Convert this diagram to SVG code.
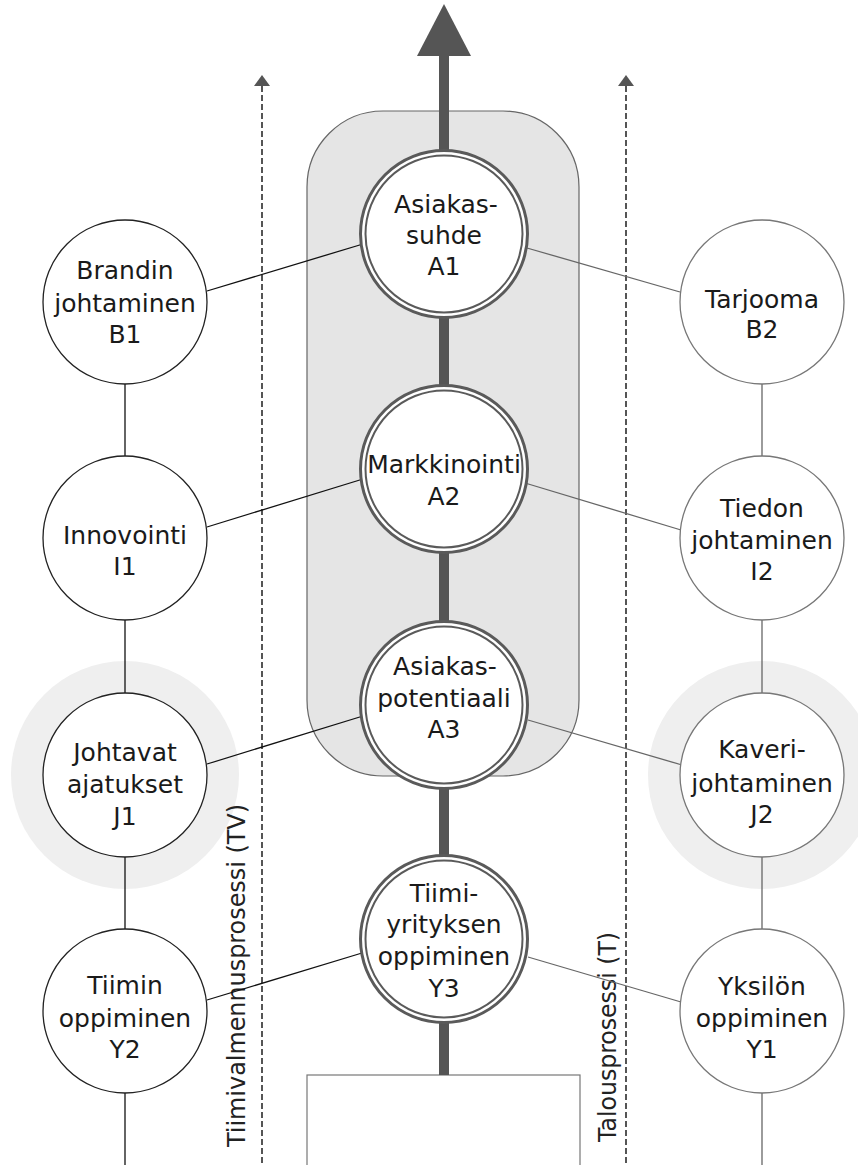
<svg xmlns="http://www.w3.org/2000/svg" width="858" height="1165" viewBox="0 0 858 1165">
<style>
  .t { font-family: "DejaVu Sans", "Liberation Sans", sans-serif; font-size: 25px; fill: #1a1a1a; text-anchor: middle; }
  .lbl { font-family: "DejaVu Sans", "Liberation Sans", sans-serif; font-size: 24px; fill: #222; }
  .nodeL { fill: #fff; stroke: #222; stroke-width: 1.3; }
  .nodeR { fill: #fff; stroke: #777; stroke-width: 1.3; }
  .ringO { fill: #fff; stroke: #5a5a5a; stroke-width: 3; }
  .ringI { fill: #fff; stroke: #5a5a5a; stroke-width: 2; }
  .cL { stroke: #111; stroke-width: 1.3; fill: none; }
  .cR { stroke: #666; stroke-width: 1.3; fill: none; }
  .dash { stroke: #555; stroke-width: 2; stroke-dasharray: 6 3; fill: none; }
  .halo { fill: #efefef; }
</style>

<g id="background">
  <rect x="307" y="111" width="272" height="665" rx="76" ry="76" fill="#e5e5e5" stroke="#666" stroke-width="1.2"/>
  <circle class="halo" cx="125" cy="775" r="114"/>
  <circle class="halo" cx="762" cy="775" r="114"/>
  <rect id="bottom-box" x="307" y="1075" width="273" height="100" fill="#fff" stroke="#777" stroke-width="1.2"/>
</g>

<g id="process-labels">
  <line class="dash" x1="262" y1="86" x2="262" y2="1165"/>
  <polygon points="262,75 254,86 270,86" fill="#555"/>
  <line class="dash" x1="626" y1="86" x2="626" y2="1165"/>
  <polygon points="626,75 618,86 634,86" fill="#555"/>
  <text class="lbl" transform="translate(245,1147) rotate(-90)" textLength="343" lengthAdjust="spacingAndGlyphs">Tiimivalmennusprosessi (TV)</text>
  <text class="lbl" transform="translate(616,1142) rotate(-90)" textLength="210" lengthAdjust="spacingAndGlyphs">Talousprosessi (T)</text>
</g>

<g id="connectors">
  <line x1="444" y1="54" x2="444" y2="1075" stroke="#555" stroke-width="10"/>
  <polygon points="444,4 417,56 471,56" fill="#555"/>
  <line class="cL" x1="125" y1="384" x2="125" y2="1165"/>
  <line class="cR" x1="762" y1="384" x2="762" y2="1165"/>
  <line class="cL" x1="207" y1="291" x2="363" y2="244"/>
  <line class="cL" x1="207" y1="527" x2="363" y2="479"/>
  <line class="cL" x1="207" y1="764" x2="363" y2="716"/>
  <line class="cL" x1="207" y1="1000" x2="362" y2="953"/>
  <line class="cR" x1="527" y1="248" x2="680" y2="292"/>
  <line class="cR" x1="525" y1="483" x2="681" y2="530"/>
  <line class="cR" x1="528" y1="720" x2="682" y2="765"/>
  <line class="cR" x1="528" y1="957" x2="681" y2="1002"/>
</g>

<g id="A1">
  <circle class="ringO" cx="444" cy="234" r="83.5"/>
  <circle class="ringI" cx="444" cy="234" r="78.5"/>
  <text class="t" x="446" y="213">Asiakas-</text>
  <text class="t" x="444" y="244">suhde</text>
  <text class="t" x="444" y="275">A1</text>
</g>
<g id="A2">
  <circle class="ringO" cx="444" cy="469" r="83.5"/>
  <circle class="ringI" cx="444" cy="469" r="78.5"/>
  <text class="t" x="444" y="473">Markkinointi</text>
  <text class="t" x="444" y="505">A2</text>
</g>
<g id="A3">
  <circle class="ringO" cx="444" cy="705" r="83.5"/>
  <circle class="ringI" cx="444" cy="705" r="78.5"/>
  <text class="t" x="445" y="675">Asiakas-</text>
  <text class="t" x="444" y="707">potentiaali</text>
  <text class="t" x="444" y="738">A3</text>
</g>
<g id="Y3">
  <circle class="ringO" cx="444" cy="939" r="83.5"/>
  <circle class="ringI" cx="444" cy="939" r="78.5"/>
  <text class="t" x="444" y="902">Tiimi-</text>
  <text class="t" x="444" y="933">yrityksen</text>
  <text class="t" x="444" y="965">oppiminen</text>
  <text class="t" x="444" y="997">Y3</text>
</g>

<g id="B1">
  <circle class="nodeL" cx="125" cy="302" r="82"/>
  <text class="t" x="125" y="279">Brandin</text>
  <text class="t" x="125" y="312">johtaminen</text>
  <text class="t" x="125" y="343">B1</text>
</g>
<g id="I1">
  <circle class="nodeL" cx="125" cy="538" r="82"/>
  <text class="t" x="125" y="544">Innovointi</text>
  <text class="t" x="125" y="575">I1</text>
</g>
<g id="J1">
  <circle class="nodeL" cx="125" cy="775" r="82"/>
  <text class="t" x="125" y="761">Johtavat</text>
  <text class="t" x="125" y="793">ajatukset</text>
  <text class="t" x="125" y="825">J1</text>
</g>
<g id="Y2">
  <circle class="nodeL" cx="125" cy="1011" r="82"/>
  <text class="t" x="125" y="994">Tiimin</text>
  <text class="t" x="125" y="1027">oppiminen</text>
  <text class="t" x="125" y="1058">Y2</text>
</g>

<g id="B2">
  <circle class="nodeR" cx="762" cy="302" r="82"/>
  <text class="t" x="762" y="308">Tarjooma</text>
  <text class="t" x="762" y="338">B2</text>
</g>
<g id="I2">
  <circle class="nodeR" cx="762" cy="538" r="82"/>
  <text class="t" x="762" y="517">Tiedon</text>
  <text class="t" x="762" y="549">johtaminen</text>
  <text class="t" x="762" y="580">I2</text>
</g>
<g id="J2">
  <circle class="nodeR" cx="762" cy="775" r="82"/>
  <text class="t" x="762" y="758">Kaveri-</text>
  <text class="t" x="762" y="792">johtaminen</text>
  <text class="t" x="762" y="823">J2</text>
</g>
<g id="Y1">
  <circle class="nodeR" cx="762" cy="1011" r="82"/>
  <text class="t" x="762" y="995">Yksilön</text>
  <text class="t" x="762" y="1027">oppiminen</text>
  <text class="t" x="762" y="1058">Y1</text>
</g>
</svg>
